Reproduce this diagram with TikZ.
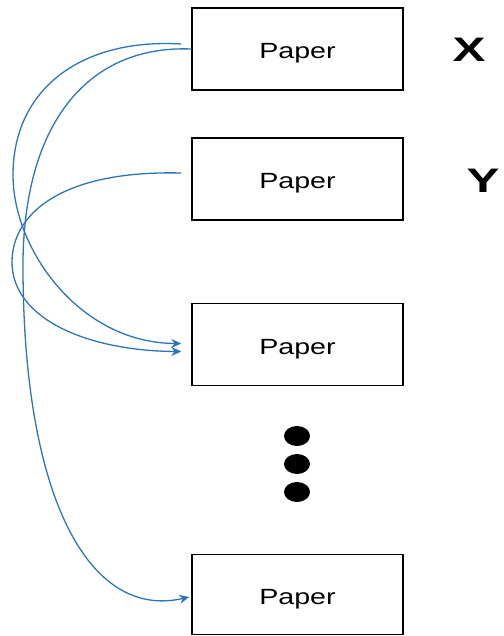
\documentclass[tikz,border=0pt]{standalone}
\usepackage{fontspec}
\setmainfont{Liberation Sans}
\usetikzlibrary{arrows.meta,calc}
\definecolor{curveblue}{RGB}{46,117,182}
\tikzset{
  paperbox/.style={draw=black, line width=1.5pt, minimum width=211pt, minimum height=82pt, inner sep=0pt,
    text height=20pt, text depth=0pt, font=\fontsize{22}{26}\selectfont},
  letter/.style={font=\fontsize{34}{40}\selectfont\bfseries, inner sep=0pt},
  link/.style={draw=curveblue, line width=1.3pt, -{Stealth[length=10pt,width=9pt]}},
  dotmark/.style={fill=black, draw=none}
}
\newcommand{\wide}[2]{\scalebox{#1}[1]{#2}}
\begin{document}
\begin{tikzpicture}[x=1pt,y=-1pt]
\useasboundingbox (0,0) rectangle (503,636);
\node[paperbox] (b1) at (297.5,49) {\wide{1.3}{Paper}};
\node[paperbox] (b2) at (297.5,179) {\wide{1.3}{Paper}};
\node[paperbox] (b3) at (297.5,344.5) {\wide{1.3}{Paper}};
\node[paperbox, minimum height=80pt] (b4) at (297.5,594.5) {\wide{1.3}{Paper}};
\node[letter] (lx) at (469,50) {\wide{1.45}{X}};
\node[letter] (ly) at (483,181) {\wide{1.45}{Y}};
\fill[dotmark] (297,436) ellipse (13 and 10);
\fill[dotmark] (297,464) ellipse (13 and 10);
\fill[dotmark] (297,492) ellipse (13 and 10);
% connector end points
\coordinate (sA) at ($(b1.west)+(-10,-5)$);
\coordinate (sB) at (b1.west);
\coordinate (sC) at ($(b2.west)+(-10,-6)$);
\coordinate (eA) at ($(b3.west)+(-10,-1)$);
\coordinate (eC) at ($(b3.west)+(-10,7)$);
\coordinate (eB) at ($(b4.west)+(-2,2.5)$);
\coordinate (mA) at (13,175);
\coordinate (mB) at (23,260);
\coordinate (mC) at (12,262);
\draw[link] (sA) .. controls (80,38) and (13,90) .. (mA)
   .. controls (13,250) and (80,343) .. (eA);
\draw[link] (sB) .. controls (90,45) and (25,120) .. (mB)
   .. controls (22,500) and (90,620) .. (eB);
\draw[link] (sC) .. controls (60,170) and (12,215) .. (mC)
   .. controls (12,320) and (90,351) .. (eC);
\end{tikzpicture}
\end{document}
